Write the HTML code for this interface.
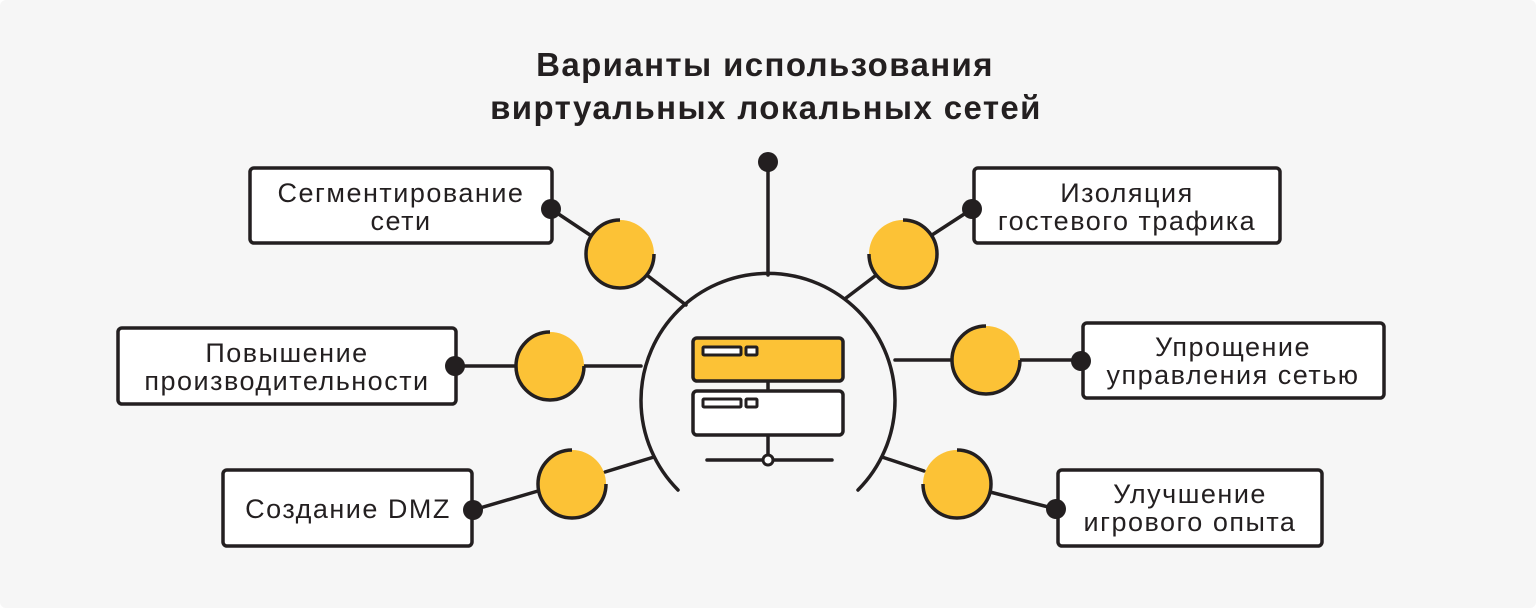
<!DOCTYPE html>
<html><head><meta charset="utf-8"><style>
html,body{margin:0;padding:0;background:#fff;}
svg{display:block;}
text{font-family:"Liberation Sans","DejaVu Sans",sans-serif;fill:#231f20;}
.t{font-size:27px;letter-spacing:1.5px;text-anchor:middle;}
.h{font-size:33px;font-weight:bold;letter-spacing:1.4px;text-anchor:middle;}
</style></head><body>
<svg width="1536" height="608" viewBox="0 0 1536 608" xmlns="http://www.w3.org/2000/svg">
<rect x="0" y="0" width="1536" height="608" rx="6" fill="#f6f6f6"/>
<text class="h" x="765" y="76">Варианты использования</text>
<text class="h" x="766" y="119">виртуальных локальных сетей</text>

<g stroke="#231f20" stroke-width="3.5" fill="none" stroke-linecap="round">
<path d="M678,490 A127,127 0 1 1 858,490"/>
<line x1="768" y1="275" x2="768" y2="162"/>
<line x1="551" y1="209" x2="590" y2="235"/>
<line x1="648" y1="276" x2="686" y2="305"/>
<line x1="455" y1="366" x2="516" y2="366"/>
<line x1="584" y1="366" x2="641" y2="366"/>
<line x1="473" y1="510" x2="538" y2="491"/>
<line x1="605" y1="472" x2="654" y2="457"/>
<line x1="972" y1="209" x2="932" y2="235"/>
<line x1="875" y1="276" x2="846" y2="298"/>
<line x1="895" y1="360" x2="951" y2="360"/>
<line x1="1020" y1="360" x2="1081" y2="360"/>
<line x1="882" y1="457" x2="924" y2="471"/>
<line x1="990" y1="492" x2="1056" y2="509"/>
</g>

<g fill="#fcc236">
<circle cx="620" cy="254" r="34"/>
<circle cx="550" cy="366" r="34"/>
<circle cx="572" cy="484" r="34"/>
<circle cx="903" cy="254" r="34"/>
<circle cx="986" cy="360" r="34"/>
<circle cx="957" cy="484" r="34"/>
</g>
<g stroke="#231f20" stroke-width="3.5" fill="none" stroke-linecap="butt">
<path d="M620,220 A34,34 0 1 0 654,254"/>
<path d="M550,332 A34,34 0 1 0 584,366"/>
<path d="M572,450 A34,34 0 1 0 606,484"/>
<path d="M903,220 A34,34 0 1 1 869,254"/>
<path d="M986,326 A34,34 0 1 0 1020,360"/>
<path d="M957,450 A34,34 0 1 1 923,484"/>
</g>

<g stroke="#231f20" stroke-width="3.5" fill="#fff">
<rect x="250" y="168" width="302" height="75" rx="4"/>
<rect x="118" y="328" width="338" height="76" rx="4"/>
<rect x="223" y="470" width="249" height="76" rx="4"/>
<rect x="974" y="168" width="306" height="75" rx="4"/>
<rect x="1083" y="323" width="301" height="75" rx="4"/>
<rect x="1058" y="470" width="264" height="76" rx="4"/>
</g>

<g fill="#231f20">
<circle cx="768" cy="162" r="10"/>
<circle cx="551" cy="209" r="10"/>
<circle cx="455" cy="366" r="10"/>
<circle cx="473" cy="510" r="10"/>
<circle cx="972" cy="209" r="10"/>
<circle cx="1081" cy="361" r="10"/>
<circle cx="1056" cy="509" r="10"/>
</g>

<text class="t" x="401" y="202">Сегментирование</text>
<text class="t" x="401" y="230">сети</text>
<text class="t" x="287" y="362">Повышение</text>
<text class="t" x="287" y="390">производительности</text>
<text class="t" x="348" y="518">Создание DMZ</text>
<text class="t" x="1127" y="202">Изоляция</text>
<text class="t" x="1127" y="230">гостевого трафика</text>
<text class="t" x="1233" y="356">Упрощение</text>
<text class="t" x="1233" y="384">управления сетью</text>
<text class="t" x="1190" y="503">Улучшение</text>
<text class="t" x="1190" y="531">игрового опыта</text>

<g stroke="#231f20" stroke-width="3.5" stroke-linecap="round">
<line x1="768" y1="381" x2="768" y2="391"/>
<line x1="768" y1="435" x2="768" y2="454"/>
<line x1="707" y1="460" x2="762" y2="460"/>
<line x1="774" y1="460" x2="832" y2="460"/>
<rect x="693" y="338" width="150" height="43" rx="4" fill="#fcc236"/>
<rect x="693" y="391" width="150" height="44" rx="4" fill="#fff"/>
</g>
<g stroke="#231f20" stroke-width="3" fill="#fff">
<rect x="703" y="347" width="38" height="8" rx="1"/>
<rect x="746" y="347" width="11" height="8" rx="1"/>
<rect x="703" y="399" width="38" height="8" rx="1"/>
<rect x="746" y="399" width="11" height="8" rx="1"/>
<circle cx="768" cy="460" r="5"/>
</g>
</svg>
</body></html>
